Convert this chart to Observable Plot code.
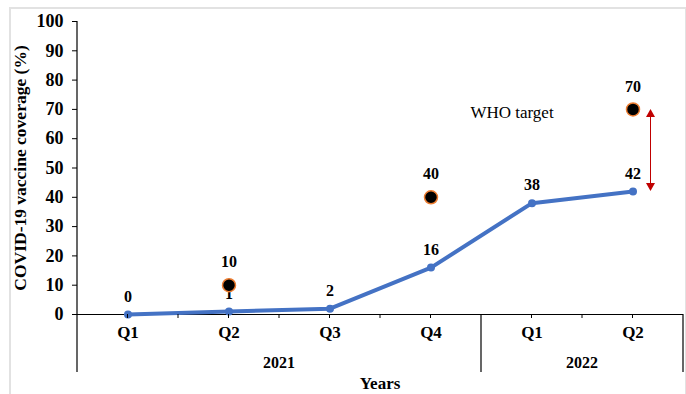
<!DOCTYPE html>
<html>
<head>
<meta charset="utf-8">
<script src="https://cdn.jsdelivr.net/npm/d3@7"></script>
<script src="https://cdn.jsdelivr.net/npm/@observablehq/plot@0.6"></script>
<style>
  html, body { margin: 0; padding: 0; background: #fff; overflow: hidden; }
  #wrap { position: relative; width: 686px; height: 394px; }
  #frame {
    position: absolute; left: 9px; top: 7px; width: 674px; height: 400px;
    border: 2px solid #e2e2e2; pointer-events: none;
  }
</style>
</head>
<body>
<div id="wrap"><div id="chart"></div><div id="frame"></div></div>
<script>
// Quarterly COVID-19 vaccine coverage against the WHO target
const years = ["2021", "2021", "2021", "2021", "2022", "2022"];
const quarters = ["Q1", "Q2", "Q3", "Q4", "Q1", "Q2"];
const coverage = [0, 1, 2, 16, 38, 42];
const targetQuarterIndex = [1, 3, 5];
const targetValues = [10, 40, 70];
const yTicks = [0, 10, 20, 30, 40, 50, 60, 70, 80, 90, 100];
const yTitle = "COVID-19 vaccine coverage (%)";
const xTitle = "Years";
const targetLabel = "WHO target";

const keys = years.map((y, i) => `${y} ${quarters[i]}`);
const series = keys.map((k, i) => ({key: k, value: coverage[i]}));
const targets = targetQuarterIndex.map((idx, i) => ({key: keys[idx], value: targetValues[i]}));
// the "WHO target" note sits beside the final target, one quarter to its left
const note = [{key: keys[keys.length - 2], value: targetValues[targetValues.length - 1], text: targetLabel}];

const blue = "#4472C4";
const orange = "#ED7D31";
const red = "#C00000";
const serif = "'Liberation Serif', 'Times New Roman', serif";

const plot = Plot.plot({
  width: 686,
  height: 394,
  marginLeft: 77,
  marginRight: 3,
  marginTop: 21,
  marginBottom: 80,
  style: {fontFamily: serif, fontSize: "16px", fontWeight: "bold", color: "#000", background: "transparent", overflow: "visible"},
  x: {type: "band", domain: keys, padding: 0, label: null},
  y: {domain: [0, 100], label: null},
  marks: [
    Plot.axisY({ticks: yTicks, tickSize: 5, tickPadding: 9, label: null, stroke: "#000", fontSize: 18}),
    Plot.axisX({tickSize: 0, tickPadding: 11, tickFormat: k => k.split(" ")[1], label: null, fontSize: 17}),
    Plot.ruleY([0], {stroke: "#000", strokeWidth: 1.2}),
    Plot.text([yTitle], {frameAnchor: "left", textAnchor: "middle", rotate: -90, dx: -57, fontSize: 17.5, fontWeight: "bold"}),
    Plot.line(series, {x: "key", y: "value", stroke: blue, strokeWidth: 4}),
    Plot.dot(series, {x: "key", y: "value", r: 4, fill: blue}),
    Plot.text(series, {x: "key", y: "value", text: d => String(d.value), dy: -18, fontSize: 16}),
    Plot.dot(targets, {x: "key", y: "value", r: 6.5, fill: "#000", stroke: orange, strokeWidth: 1.5}),
    Plot.text(targets, {x: "key", y: "value", text: d => String(d.value), dy: -23, fontSize: 16}),
    Plot.text(note, {x: "key", y: "value", text: "text", dx: -20, dy: 3, fontWeight: "normal", fontSize: 17})
  ]
});

document.getElementById("chart").appendChild(plot);

// Category-axis decorations: quarter ticks, year separators, year and axis titles
const svg = d3.select(plot);
const xs = plot.scale("x");
const ys = plot.scale("y");
const bw = xs.bandwidth;
const y0 = ys.apply(0);
const yTop = ys.apply(100);
const groupBottom = y0 + 58;
const left = xs.apply(keys[0]);
const right = xs.apply(keys[keys.length - 1]) + bw;

const g = svg.append("g").attr("stroke", "#000").attr("fill", "none");
g.append("line").attr("x1", left).attr("x2", left).attr("y1", yTop).attr("y2", groupBottom).attr("stroke-width", 1.2);

const yearNames = Array.from(new Set(years));
const groupEdges = [left];
yearNames.forEach(yr => {
  const idx = years.map((y, i) => y === yr ? i : -1).filter(i => i >= 0);
  const x1 = xs.apply(keys[idx[0]]);
  const x2 = xs.apply(keys[idx[idx.length - 1]]) + bw;
  groupEdges.push(x2);
  svg.append("text")
    .attr("x", (x1 + x2) / 2).attr("y", y0 + 48)
    .attr("text-anchor", "middle").attr("dominant-baseline", "central")
    .attr("fill", "#000").attr("font-size", 16).text(yr);
});
groupEdges.slice(1).forEach(x => {
  g.append("line").attr("x1", x).attr("x2", x).attr("y1", y0).attr("y2", groupBottom).attr("stroke-width", 1.2);
});
// small ticks at band centres and inner band boundaries
keys.forEach((k) => {
  const xc = xs.apply(k) + bw / 2;
  const xb = xs.apply(k);
  [xc, xb].forEach(x => {
    if (groupEdges.some(e => Math.abs(e - x) < 1)) return;
    g.insert("line", ":first-child").attr("x1", x).attr("x2", x).attr("y1", y0).attr("y2", y0 + 4).attr("stroke-width", 1);
  });
});
svg.append("text")
  .attr("x", (left + right) / 2).attr("y", y0 + 69)
  .attr("text-anchor", "middle").attr("dominant-baseline", "central")
  .attr("fill", "#000").attr("font-size", 17).text(xTitle);

// Double-headed arrow showing the gap between coverage and the target
const last = series[series.length - 1];
const lastTarget = targets[targets.length - 1];
const ax = xs.apply(last.key) + bw / 2 + 18;
const aTop = ys.apply(lastTarget.value);
const aBot = ys.apply(last.value);
const head = 8, half = 4.5;
svg.append("line").attr("x1", ax).attr("x2", ax).attr("y1", aTop + head - 1).attr("y2", aBot - head + 1).attr("stroke", red).attr("stroke-width", 1);
svg.append("path").attr("fill", red).attr("d", `M${ax},${aTop}L${ax - half},${aTop + head}L${ax + half},${aTop + head}Z`);
svg.append("path").attr("fill", red).attr("d", `M${ax},${aBot}L${ax - half},${aBot - head}L${ax + half},${aBot - head}Z`);
</script>
</body>
</html>
